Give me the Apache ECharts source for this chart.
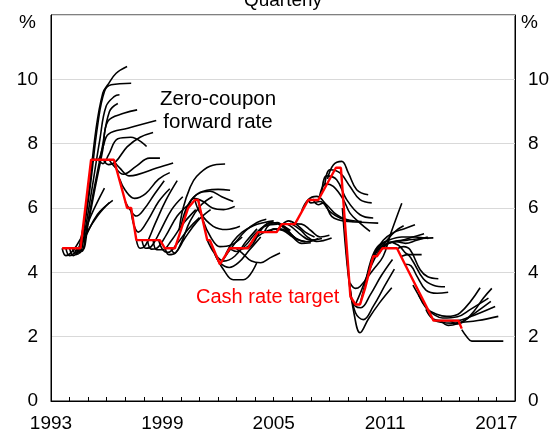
<!DOCTYPE html>
<html>
<head>
<meta charset="utf-8">
<script src="https://cdn.jsdelivr.net/npm/echarts@6/dist/echarts.min.js"></script>
<style>
  html, body { margin: 0; padding: 0; background: #fff; }
  #chart { width: 554px; height: 435px; }
</style>
</head>
<body>
<div id="chart"></div>
<script>
// cash rate target (decimal years)
const cashYears = [1993.6, 1994.59, 1995.16, 1996.39, 1997.1, 1997.32, 1997.6, 1998.87, 1999.13, 1999.68,
  2000.39, 2000.75, 2000.93, 2001.42, 2001.56, 2002.1, 2002.64, 2003.61, 2004.15, 2005.16, 2005.43,
  2006.14, 2006.86, 2007.4, 2008.35, 2008.62, 2009.13, 2009.4, 2009.65, 2009.92, 2010.36, 2010.56,
  2010.86, 2011.64, 2012.07, 2013.61, 2014.95, 2015.13]
const cashRates = [4.75, 4.75, 7.5, 7.5, 6.0, 6.0, 5.0, 5.0, 4.75, 4.75,
  6.0, 6.25, 6.25, 5.0, 5.0, 4.25, 4.75, 4.75, 5.25, 5.25, 5.5,
  5.5, 6.25, 6.25, 7.25, 7.25, 3.25, 3.0, 3.0, 3.5, 4.5, 4.5,
  4.75, 4.75, 4.25, 2.5, 2.5, 2.25]

// zero-coupon forward curves, [year, %]
const curves1990s = [
  [[1993.6,4.75],[1993.8,4.52],[1994.1,4.62],[1994.6,5.05],[1995.3,5.95],[1995.88,6.62]],
  [[1993.8,4.75],[1994.0,4.52],[1994.3,4.62],[1994.8,5.05],[1995.5,5.8],[1996.33,6.24]],
  [[1994.0,4.75],[1994.2,4.52],[1994.5,4.7],[1994.9,5.2],[1995.5,5.75],[1996.15,6.17]],
  [[1994.15,4.75],[1994.35,4.55],[1994.6,5.0],[1994.98,6.26],[1995.42,8.43],[1995.79,9.57],[1996.06,9.83],[1996.51,10.19],[1997.1,10.4]],
  [[1994.25,4.75],[1994.45,4.56],[1994.7,5.1],[1995.09,6.57],[1995.52,8.6],[1995.88,9.62],[1996.24,9.83],[1997.32,9.88]],
  [[1994.35,4.75],[1994.55,4.6],[1994.8,5.2],[1995.2,6.57],[1995.63,8.12],[1995.97,9.16],[1996.42,9.47],[1996.69,9.52]],
  [[1994.45,4.75],[1994.65,4.65],[1994.9,5.3],[1995.31,6.57],[1995.74,7.81],[1996.15,9.0],[1996.6,9.25]],
  [[1994.5,4.75],[1994.7,4.7],[1995.0,5.5],[1995.36,6.57],[1995.79,7.81],[1996.06,8.69],[1996.96,8.95],[1997.64,9.05]],
  [[1995.2,7.52],[1995.5,7.5],[1995.8,7.9],[1996.1,8.3],[1997.14,8.48],[1998.67,8.72]],
  [[1995.5,7.52],[1995.8,7.38],[1996.1,7.65],[1996.6,8.15],[1997.3,8.2],[1998.15,7.91]],
  [[1995.8,7.52],[1996.1,7.35],[1996.5,7.45],[1997.1,7.9],[1997.8,8.2],[1998.5,8.35]],
  [[1996.1,7.52],[1996.4,7.3],[1996.9,7.05],[1997.6,7.3],[1998.3,7.55],[1998.87,7.55]],
  [[1996.4,7.45],[1996.71,7.24],[1997.2,7.0],[1997.61,7.03],[1998.69,7.24],[1999.58,7.4]],
  [[1996.7,6.9],[1997.0,6.55],[1997.5,6.3],[1998.1,6.45],[1998.8,6.9],[1999.4,7.1]],
  [[1997.0,6.2],[1997.25,5.95],[1997.6,5.75],[1998.0,5.95],[1998.6,6.45],[1999.1,6.85]],
  [[1997.3,6.0],[1997.45,5.5],[1997.7,5.25],[1998.2,5.6],[1998.8,6.2],[1999.4,6.6]],
  [[1997.6,5.0],[1997.8,4.75],[1998.1,4.85],[1998.6,5.5],[1999.2,6.25],[1999.8,6.85]],
  [[1997.9,5.0],[1998.1,4.75],[1998.4,4.8],[1998.9,5.3],[1999.5,5.95],[2000.1,6.35]],
  [[1998.2,5.0],[1998.4,4.72],[1998.7,4.75],[1999.2,5.15],[1999.8,5.75],[2000.4,6.1]],
  [[1998.5,5.0],[1998.7,4.7],[1999.0,4.7],[1999.5,5.0],[2000.1,5.5],[2000.8,5.95]],
  [[1998.8,5.0],[1999.0,4.72],[1999.3,4.62],[1999.8,4.9],[2000.4,5.35],[2001.0,5.7]],
  [[1999.15,4.76],[1999.35,4.55],[1999.7,4.6],[2000.2,5.05],[2000.9,5.6],[2001.6,5.95]],
  [[1999.45,4.76],[1999.65,4.6],[2000.0,4.9],[2000.5,5.6],[2001.1,6.1],[2001.7,6.35]]
]
const curves2000s = [
  [[1999.9,5.3],[2000.12,6.0],[2000.5,6.65],[2000.84,6.98],[2001.56,7.3],[2002.38,7.37]],
  [[2000.0,5.4],[2000.3,6.0],[2000.8,6.4],[2001.4,6.55],[2002.0,6.58],[2002.65,6.55]],
  [[2000.2,5.7],[2000.5,6.2],[2001.03,6.47],[2001.57,6.52],[2002.2,6.35],[2002.82,6.2]],
  [[2000.39,6.0],[2000.7,6.3],[2001.2,6.2],[2001.7,6.0],[2002.3,5.95],[2002.9,6.05]],
  [[2000.75,6.26],[2001.03,5.85],[2001.74,5.43],[2002.46,5.33],[2003.18,5.43]],
  [[2000.93,6.26],[2001.2,5.6],[2001.6,5.1],[2002.1,4.8],[2002.7,4.85],[2003.3,5.1]],
  [[2001.42,5.0],[2001.8,4.6],[2002.3,4.35],[2002.9,4.5],[2003.5,4.95],[2004.1,5.35]],
  [[2001.56,5.0],[2001.85,4.55],[2002.3,4.08],[2002.82,3.77],[2003.36,3.77],[2004.08,4.29]],
  [[2001.8,4.62],[2002.1,4.3],[2002.6,4.15],[2003.1,4.3],[2003.7,4.7],[2004.3,5.1]],
  [[2002.1,4.24],[2002.4,4.5],[2002.9,4.9],[2003.5,5.3],[2004.1,5.55],[2004.6,5.65]],
  [[2002.4,4.55],[2002.8,4.95],[2003.3,5.25],[2003.9,5.45],[2004.5,5.55],[2005.0,5.6]],
  [[2002.64,4.73],[2003.0,4.65],[2003.5,4.85],[2004.0,5.2],[2004.6,5.45],[2005.2,5.5]],
  [[2003.0,4.73],[2003.3,4.6],[2003.8,4.35],[2004.3,4.3],[2004.8,4.45],[2005.34,4.6]],
  [[2003.3,4.73],[2003.6,4.8],[2004.1,5.1],[2004.7,5.3],[2005.3,5.35],[2005.9,5.2]],
  [[2003.61,4.73],[2003.9,4.9],[2004.3,5.3],[2004.8,5.55],[2005.3,5.5],[2005.9,5.3]],
  [[2004.15,5.26],[2004.5,5.45],[2004.9,5.55],[2005.4,5.45],[2005.9,5.2],[2006.3,5.0]],
  [[2004.5,5.26],[2004.8,5.5],[2005.2,5.55],[2005.7,5.3],[2006.2,5.05],[2006.7,4.95]],
  [[2004.8,5.26],[2005.0,5.35],[2005.5,5.3],[2006.0,5.1],[2006.5,4.9],[2007.0,4.92]],
  [[2005.16,5.26],[2005.4,5.45],[2005.8,5.6],[2006.2,5.5],[2006.7,5.25],[2007.2,5.1]],
  [[2005.43,5.51],[2005.7,5.35],[2006.2,5.05],[2006.8,4.95],[2007.4,5.05]],
  [[2005.7,5.51],[2006.0,5.4],[2006.5,5.15],[2007.0,5.0],[2007.6,5.05]],
  [[2005.88,5.53],[2006.42,5.33],[2006.78,5.12],[2007.31,4.96],[2008.12,5.07]],
  [[2006.14,5.51],[2006.5,5.5],[2007.0,5.3],[2007.5,5.1],[2008.0,5.15]],
  [[2006.5,5.9],[2006.86,6.26],[2007.31,6.36],[2007.85,6.1],[2008.39,5.79],[2008.93,5.64],[2009.74,5.58]],
  [[2006.86,6.26],[2007.0,6.16],[2007.49,6.2],[2008.03,5.89],[2008.57,5.69],[2009.29,5.58]],
  [[2007.1,6.28],[2007.4,6.1],[2007.67,6.16],[2008.12,5.74],[2008.57,5.62],[2009.02,5.58],[2010.63,5.53]],
  [[2007.45,6.3],[2007.8,6.75],[2008.21,6.67],[2008.75,6.26],[2009.11,5.84],[2009.65,5.53],[2010.19,5.27]],
  [[2007.6,6.5],[2007.85,7.0],[2008.39,6.88],[2008.93,6.26],[2009.65,5.79],[2010.36,5.69]],
  [[2007.75,6.7],[2008.03,7.19],[2008.57,7.09],[2009.11,6.67],[2009.65,6.26],[2010.28,6.16]],
  [[2007.9,6.9],[2008.21,7.34],[2008.66,7.45],[2009.02,7.09],[2009.47,6.57],[2010.09,6.41]]
]
const curves2010s = [
  [[2008.7,6.0],[2009.0,4.0],[2009.35,2.65],[2009.65,2.12],[2010.1,2.55],[2010.7,3.05],[2011.36,3.52]],
  [[2008.85,5.2],[2009.1,3.6],[2009.4,2.75],[2009.83,2.53],[2010.36,2.94],[2011.0,3.6],[2011.5,4.1]],
  [[2009.13,3.25],[2009.4,2.95],[2009.7,2.9],[2010.2,3.3],[2010.8,3.9],[2011.4,4.4]],
  [[2009.11,3.67],[2009.4,3.5],[2009.65,3.56],[2010.36,4.08],[2010.9,4.5],[2011.3,5.2],[2011.9,6.15]],
  [[2009.4,3.0],[2009.7,3.4],[2010.1,4.0],[2010.6,4.6],[2011.1,5.0],[2011.6,5.3],[2012.0,5.45]],
  [[2009.65,3.0],[2010.0,3.8],[2010.4,4.55],[2010.9,5.0],[2011.5,5.25],[2012.0,5.35],[2012.61,5.48]],
  [[2009.92,3.57],[2010.2,4.3],[2010.6,4.8],[2011.2,5.0],[2011.9,5.1],[2012.6,5.1],[2013.33,5.05]],
  [[2010.2,4.2],[2010.5,4.6],[2010.9,4.85],[2011.5,4.95],[2012.2,5.0],[2012.9,5.05],[2013.6,5.07]],
  [[2010.36,4.5],[2010.7,4.8],[2011.1,4.95],[2011.7,4.85],[2012.3,4.55],[2012.97,4.55]],
  [[2010.7,4.6],[2011.0,4.85],[2011.4,4.95],[2011.9,5.0],[2012.5,5.1],[2013.1,5.2]],
  [[2010.86,4.73],[2011.2,4.9],[2011.6,4.95],[2012.1,4.9],[2012.7,5.0],[2013.3,5.1]],
  [[2011.64,4.73],[2012.0,4.8],[2012.35,4.7],[2012.89,4.08],[2013.3,3.86],[2013.87,3.8]],
  [[2011.9,4.5],[2012.2,4.55],[2012.44,4.4],[2013.06,3.8],[2013.6,3.6],[2014.23,3.55]],
  [[2012.1,4.25],[2012.4,4.2],[2012.7,3.9],[2013.2,3.45],[2013.8,3.35],[2014.4,3.38]],
  [[2012.5,3.6],[2012.9,3.2],[2013.3,2.85],[2013.6,2.74],[2014.32,2.63],[2015.04,2.74],[2016.12,3.52]],
  [[2012.8,3.3],[2013.2,2.9],[2013.6,2.7],[2014.1,2.58],[2014.9,2.62],[2015.6,2.85],[2016.57,3.2]],
  [[2013.2,2.85],[2013.6,2.55],[2014.2,2.5],[2014.9,2.5],[2015.5,2.6],[2016.93,2.94]],
  [[2013.6,2.52],[2014.0,2.45],[2014.6,2.42],[2015.2,2.45],[2016.0,2.5],[2017.1,2.63]],
  [[2014.0,2.5],[2014.4,2.35],[2014.9,2.4],[2015.4,2.55],[2016.0,2.8],[2016.7,3.1]],
  [[2014.5,2.5],[2014.9,2.4],[2015.3,2.5],[2015.8,2.8],[2016.3,3.2],[2016.75,3.5]],
  [[2015.13,2.22],[2015.4,2.0],[2015.67,1.86],[2016.48,1.86],[2017.37,1.86]]
]

const FONT = "'Liberation Sans', Arial, sans-serif"

const chart = echarts.init(document.getElementById('chart'))

const forwardSeries = [...curves1990s, ...curves2000s, ...curves2010s].map(c => ({
  type: 'line',
  data: c,
  smooth: 0.4,
  showSymbol: false,
  silent: true,
  lineStyle: { color: '#000', width: 1.6 },
  z: 2
}))

const yAxisBase = {
  type: 'value',
  min: 0,
  max: 12,
  interval: 2,
  axisLine: { show: true, lineStyle: { color: '#000' } },
  axisTick: { show: false },
  axisLabel: {
    color: '#000',
    fontSize: 19,
    fontFamily: FONT,
    margin: 13,
    formatter: v => (v === 12 ? '' : String(v))
  }
}

chart.setOption({
  animation: false,
  grid: { left: 51, right: 39, top: 15, bottom: 34, show: true, borderColor: '#000', borderWidth: 1 },
  xAxis: {
    type: 'value',
    min: 1993,
    max: 2018,
    interval: 1,
    axisLine: { lineStyle: { color: '#000' } },
    axisTick: { inside: true, length: 4, lineStyle: { color: '#000' } },
    splitLine: { show: false },
    axisLabel: {
      color: '#000',
      fontSize: 19,
      fontFamily: FONT,
      margin: 13,
      formatter: v => ((v - 1993) % 6 === 0 && v < 2018 ? String(v) : '')
    }
  },
  yAxis: [
    { ...yAxisBase, position: 'left', splitLine: { show: true, lineStyle: { color: '#d9d9d9', width: 1 } } },
    { ...yAxisBase, position: 'right', splitLine: { show: false } }
  ],
  graphic: [
    { type: 'text', left: 19, top: 13, style: { text: '%', fontSize: 19, fontFamily: FONT, fill: '#000' } },
    { type: 'text', left: 521, top: 13, style: { text: '%', fontSize: 19, fontFamily: FONT, fill: '#000' } },
    { type: 'text', x: 283, y: -9, style: { text: 'Quarterly', fontSize: 19, fontFamily: FONT, fill: '#000', textAlign: 'center' } },
    { type: 'text', x: 218, y: 88, style: { text: 'Zero-coupon\nforward rate', fontSize: 20.5, lineHeight: 23, fontFamily: FONT, fill: '#000', textAlign: 'center' } },
    { type: 'text', x: 196, y: 287, style: { text: 'Cash rate target', fontSize: 20, fontFamily: FONT, fill: '#ff0000' } }
  ],
  series: [
    ...forwardSeries,
    {
      type: 'line',
      data: cashYears.map((y, i) => [y, cashRates[i]]),
      showSymbol: false,
      silent: true,
      lineStyle: { color: '#ff0000', width: 2.4 },
      z: 5
    }
  ]
})
</script>
</body>
</html>
